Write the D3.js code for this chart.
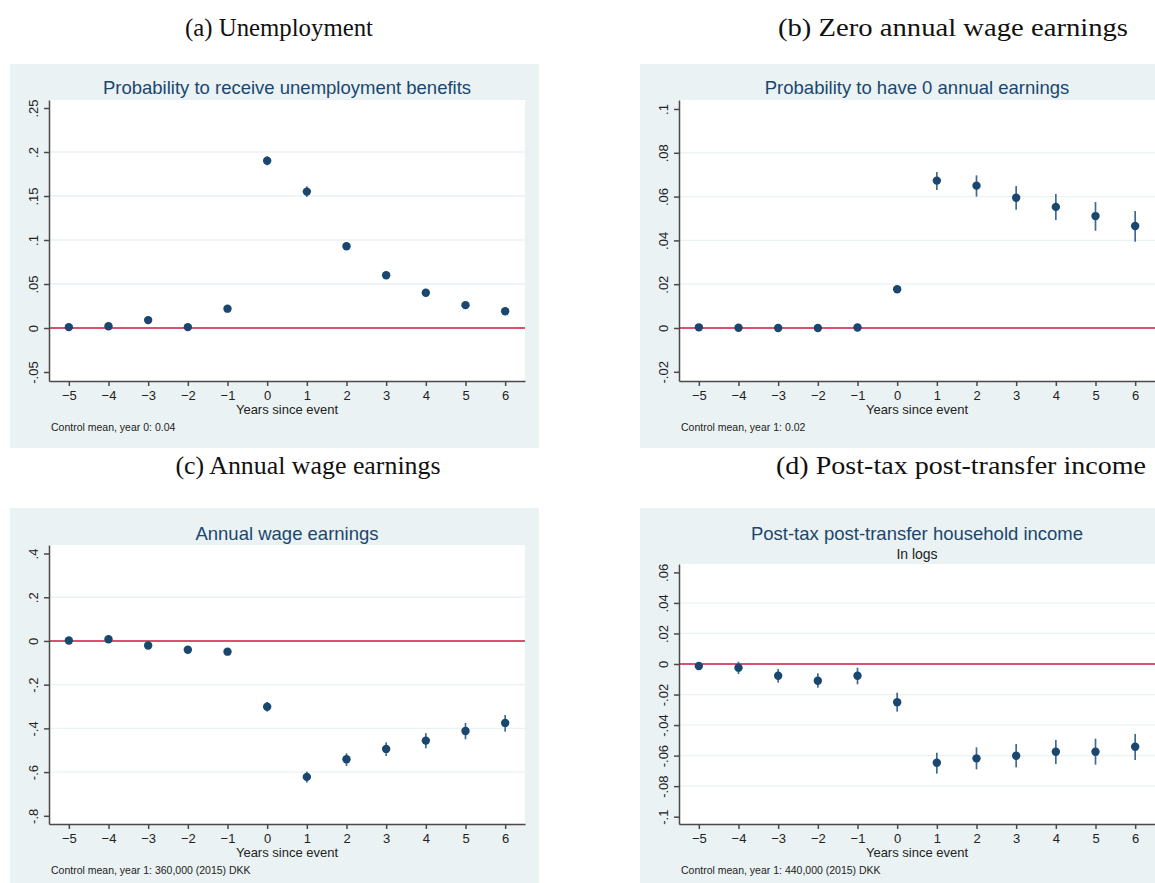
<!DOCTYPE html>
<html>
<head>
<meta charset="utf-8">
<title>Event study: unemployment, earnings and income</title>
<script src="https://d3js.org/d3.v7.min.js"></script>
<style>
    body {
        margin: 0;
        background: #ffffff;
    }
    svg {
        display: block;
        font-family: "Liberation Sans", Arial, sans-serif;
    }
    .caption {
        font-family: "Liberation Serif", "Times New Roman", serif;
        font-size: 24.5px;
        fill: #111;
    }
    .panel-bg { fill: #eaf2f3; }
    .plot-bg { fill: #ffffff; }
    .grid line {
        stroke: #eaf2f3;
        stroke-width: 1.3px;
    }
    .zero-line {
        stroke: #d6173f;
        stroke-width: 1.4px;
    }
    .axis path,
    .axis line {
        stroke: #4a4a4a;
        stroke-width: 1.5px;
    }
    .axis text {
        font-size: 13px;
        fill: #222;
    }
    .title {
        font-size: 18.5px;
        fill: #1a476f;
    }
    .subtitle {
        font-size: 14px;
        fill: #222;
    }
    .axis-title {
        font-size: 13px;
        fill: #222;
    }
    .note {
        font-size: 10.5px;
        fill: #222;
    }
    .ci {
        stroke: #3f6a92;
        stroke-width: 1.7px;
    }
    .dot {
        fill: #1a476f;
    }
</style>
</head>
<body>
<svg width="1155" height="883"></svg>
<script>
    // event time
    const years = [-5, -4, -3, -2, -1, 0, 1, 2, 3, 4, 5, 6];

    // (a) probability to receive unemployment benefits
    const unempEst = [0.001, 0.002, 0.009, 0.001, 0.022, 0.190, 0.155, 0.093, 0.060, 0.040, 0.026, 0.019];
    const unempLo  = [-0.001, 0.000, 0.007, -0.001, 0.019, 0.185, 0.149, 0.089, 0.056, 0.036, 0.022, 0.015];
    const unempHi  = [0.003, 0.004, 0.011, 0.003, 0.025, 0.195, 0.161, 0.097, 0.064, 0.044, 0.030, 0.023];
    const unempTicks = [-0.05, 0, 0.05, 0.1, 0.15, 0.2, 0.25];
    const unempDomain = [-0.0602, 0.2591];

    // (b) probability to have 0 annual earnings
    const zeroEst = [0.0003, 0.0001, 0.0000, 0.0000, 0.0002, 0.0177, 0.0673, 0.0650, 0.0595, 0.0553, 0.0511, 0.0466];
    const zeroLo  = [-0.0002, -0.0003, -0.0004, -0.0004, -0.0003, 0.0160, 0.0630, 0.0600, 0.0540, 0.0493, 0.0444, 0.0394];
    const zeroHi  = [0.0008, 0.0005, 0.0004, 0.0004, 0.0007, 0.0194, 0.0712, 0.0697, 0.0648, 0.0612, 0.0575, 0.0534];
    const zeroTicks = [-0.02, 0, 0.02, 0.04, 0.06, 0.08, 0.1];
    const zeroDomain = [-0.0242, 0.1041];

    // (c) annual wage earnings
    const wageEst = [0.002, 0.008, -0.021, -0.040, -0.049, -0.301, -0.622, -0.541, -0.494, -0.456, -0.412, -0.375];
    const wageLo  = [-0.006, 0.000, -0.029, -0.048, -0.057, -0.323, -0.648, -0.572, -0.526, -0.491, -0.450, -0.415];
    const wageHi  = [0.010, 0.016, -0.013, -0.032, -0.041, -0.279, -0.598, -0.514, -0.464, -0.422, -0.375, -0.339];
    const wageTicks = [-0.8, -0.6, -0.4, -0.2, 0, 0.2, 0.4];
    const wageDomain = [-0.8375, 0.439];

    // (d) post-tax post-transfer household income, in logs
    const incEst = [-0.0013, -0.0024, -0.0077, -0.0110, -0.0077, -0.0251, -0.0647, -0.0618, -0.0601, -0.0575, -0.0575, -0.0542];
    const incLo  = [-0.0035, -0.0066, -0.0122, -0.0155, -0.0133, -0.0312, -0.0718, -0.0690, -0.0677, -0.0655, -0.0659, -0.0629];
    const incHi  = [0.0009, 0.0015, -0.0033, -0.0061, -0.0024, -0.0188, -0.0581, -0.0546, -0.0524, -0.0498, -0.0489, -0.0458];
    const incTicks = [-0.1, -0.08, -0.06, -0.04, -0.02, 0, 0.02, 0.04, 0.06];
    const incDomain = [-0.1048, 0.0655];

    const svg = d3.select("svg");

    // stata style labels: .25, -.05, 0
    const fmt = v => v === 0 ? "0" : String(v).replace(/^(-?)0\./, "$1.");

    const panels = [
        {
            caption: "(a) Unemployment", capX: 279, capY: 36, capW: 188,
            title: "Probability to receive unemployment benefits", titleY: 94,
            note: "Control mean, year 0: 0.04",
            box: [10, 64, 529, 384], plot: [49, 525, 100, 381],
            est: unempEst, lo: unempLo, hi: unempHi, ticks: unempTicks, domain: unempDomain
        },
        {
            caption: "(b) Zero annual wage earnings", capX: 953, capY: 36, capW: 350,
            title: "Probability to have 0 annual earnings", titleY: 94,
            note: "Control mean, year 1: 0.02",
            box: [640, 64, 515, 384], plot: [679, 1155, 100, 381],
            est: zeroEst, lo: zeroLo, hi: zeroHi, ticks: zeroTicks, domain: zeroDomain
        },
        {
            caption: "(c) Annual wage earnings", capX: 308, capY: 474, capW: 265,
            title: "Annual wage earnings", titleY: 540,
            note: "Control mean, year 1: 360,000 (2015) DKK",
            box: [10, 508, 529, 375], plot: [49, 525, 545, 824],
            est: wageEst, lo: wageLo, hi: wageHi, ticks: wageTicks, domain: wageDomain
        },
        {
            caption: "(d) Post-tax post-transfer income", capX: 961, capY: 474, capW: 370,
            title: "Post-tax post-transfer household income", titleY: 540,
            subtitle: "In logs", subY: 559,
            note: "Control mean, year 1: 440,000 (2015) DKK",
            box: [640, 508, 515, 375], plot: [679, 1155, 564, 824],
            est: incEst, lo: incLo, hi: incHi, ticks: incTicks, domain: incDomain
        }
    ];

    panels.forEach(p => {
        const [x0, x1, y0, y1] = p.plot;
        const cx = (x0 + x1) / 2;

        svg.append("text")
           .attr("class", "caption")
           .attr("x", p.capX)
           .attr("y", p.capY)
           .attr("text-anchor", "middle")
           .attr("textLength", p.capW)
           .attr("lengthAdjust", "spacingAndGlyphs")
           .text(p.caption);

        svg.append("rect")
           .attr("class", "panel-bg")
           .attr("x", p.box[0]).attr("y", p.box[1])
           .attr("width", p.box[2]).attr("height", p.box[3]);

        svg.append("rect")
           .attr("class", "plot-bg")
           .attr("x", x0).attr("y", y0)
           .attr("width", x1 - x0).attr("height", y1 - y0);

        const x = d3.scaleLinear().domain([-5.5, 6.5]).range([x0, x1]);
        const y = d3.scaleLinear().domain(p.domain).range([y1, y0]);

        // gridlines on the inner ticks only
        svg.append("g")
           .attr("class", "grid")
           .selectAll("line")
           .data(p.ticks.slice(1, -1))
           .join("line")
           .attr("x1", x0).attr("x2", x1)
           .attr("y1", d => y(d)).attr("y2", d => y(d));

        svg.append("line")
           .attr("class", "zero-line")
           .attr("x1", x0).attr("x2", x1)
           .attr("y1", y(0)).attr("y2", y(0));

        // x axis
        svg.append("g")
           .attr("class", "axis")
           .attr("transform", `translate(0,${y1})`)
           .call(d3.axisBottom(x).tickValues(years).tickSize(5).tickSizeOuter(0).tickPadding(5));

        // y axis with vertical labels
        const ya = svg.append("g")
           .attr("class", "axis")
           .attr("transform", `translate(${x0},0)`)
           .call(d3.axisLeft(y).tickValues(p.ticks).tickFormat(fmt).tickSize(5).tickSizeOuter(0));
        ya.selectAll("text")
          .attr("x", 0)
          .attr("y", -11)
          .attr("dy", 0)
          .attr("transform", "rotate(-90)")
          .attr("text-anchor", "middle");

        // confidence intervals and estimates
        const pts = years.map((yr, i) => ({ yr, est: p.est[i], lo: p.lo[i], hi: p.hi[i] }));

        svg.append("g")
           .selectAll("line")
           .data(pts)
           .join("line")
           .attr("class", "ci")
           .attr("x1", d => x(d.yr)).attr("x2", d => x(d.yr))
           .attr("y1", d => y(d.lo)).attr("y2", d => y(d.hi));

        svg.append("g")
           .selectAll("circle")
           .data(pts)
           .join("circle")
           .attr("class", "dot")
           .attr("cx", d => x(d.yr))
           .attr("cy", d => y(d.est))
           .attr("r", 4.2);

        // titles and notes
        svg.append("text")
           .attr("class", "title")
           .attr("x", cx).attr("y", p.titleY)
           .attr("text-anchor", "middle")
           .text(p.title);

        if (p.subtitle) {
            svg.append("text")
               .attr("class", "subtitle")
               .attr("x", cx).attr("y", p.subY)
               .attr("text-anchor", "middle")
               .text(p.subtitle);
        }

        svg.append("text")
           .attr("class", "axis-title")
           .attr("x", cx).attr("y", y1 + 33)
           .attr("text-anchor", "middle")
           .text("Years since event");

        svg.append("text")
           .attr("class", "note")
           .attr("x", x0 + 2).attr("y", y1 + 50)
           .text(p.note);
    });
</script>
</body>
</html>
